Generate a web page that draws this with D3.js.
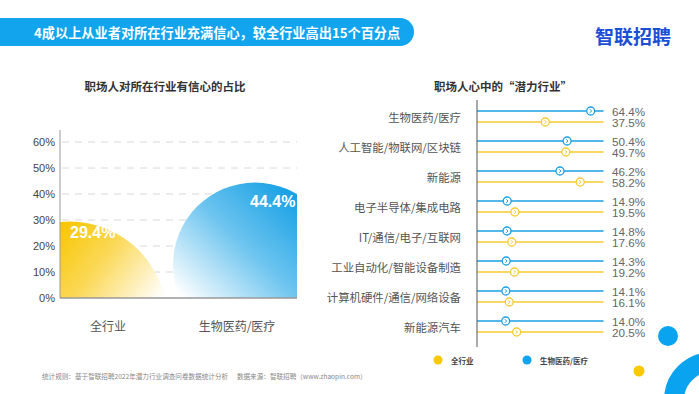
<!DOCTYPE html>
<html>
<head>
<meta charset="utf-8">
<script src="https://cdn.jsdelivr.net/npm/d3@7"></script>
<style>
  body { margin: 0; background: #fff; }
  svg { display: block; font-family: "Noto Sans CJK SC", "Noto Sans", sans-serif; }
</style>
</head>
<body>
<div id="chart"></div>
<script>
// left chart data
var confCats = ["全行业", "生物医药/医疗"];
var confVals = [29.4, 44.4];
var confTicks = [0, 10, 20, 30, 40, 50, 60];

// right chart data
var potCats = ["生物医药/医疗", "人工智能/物联网/区块链", "新能源", "电子半导体/集成电路",
  "IT/通信/电子/互联网", "工业自动化/智能设备制造", "计算机硬件/通信/网络设备", "新能源汽车"];
var bioVals = [64.4, 50.4, 46.2, 14.9, 14.8, 14.3, 14.1, 14.0];
var allVals = [37.5, 49.7, 58.2, 19.5, 17.6, 19.2, 16.1, 20.5];
var seriesNames = ["全行业", "生物医药/医疗"];

var width = 699, height = 394;
var blue = "#1a9fe3", yellow = "#f6cb2f";

var svg = d3.select("#chart").append("svg")
    .attr("width", width)
    .attr("height", height);
var defs = svg.append("defs");

// header bar
svg.append("path")
    .attr("d", "M0,18 H400 A14,14 0 0 1 400,46 H0 Z")
    .attr("fill", "#12a5ee");
svg.append("text")
    .attr("x", 34).attr("y", 32)
    .attr("dominant-baseline", "central")
    .attr("fill", "#fff")
    .attr("font-size", 13.2)
    .attr("font-weight", "bold")
    .text("4成以上从业者对所在行业充满信心，较全行业高出15个百分点");

// logo
svg.append("text")
    .attr("x", 595).attr("y", 35)
    .attr("dominant-baseline", "central")
    .attr("fill", "#1b4fd6")
    .attr("font-size", 19)
    .attr("font-weight", "bold")
    .text("智联招聘");

// ---------- left chart ----------
var plotL = 60, plotR = 297;
var y = d3.scaleLinear().domain([0, 60]).range([298, 142]);
var x = d3.scalePoint().domain(confCats).range([108, 237]);

svg.append("text")
    .attr("x", 165).attr("y", 86)
    .attr("text-anchor", "middle")
    .attr("dominant-baseline", "central")
    .attr("font-size", 11.5)
    .attr("font-weight", "bold")
    .attr("fill", "#333")
    .text("职场人对所在行业有信心的占比");

// dashed grid
svg.append("g").selectAll("line")
    .data(confTicks.filter(function(d) { return d > 0; }))
    .join("line")
    .attr("x1", plotL + 2).attr("x2", plotR)
    .attr("y1", function(d) { return y(d); })
    .attr("y2", function(d) { return y(d); })
    .attr("stroke", "#d8d8d8")
    .attr("stroke-width", 1)
    .attr("stroke-dasharray", "7,6");

// tick labels
svg.append("g").selectAll("text")
    .data(confTicks)
    .join("text")
    .attr("x", 55)
    .attr("y", function(d) { return y(d); })
    .attr("text-anchor", "end")
    .attr("dominant-baseline", "central")
    .attr("font-family", "Liberation Sans, Arial, sans-serif")
    .attr("font-size", 11)
    .attr("fill", "#444")
    .text(function(d) { return d + "%"; });

// gradients
var gY = defs.append("linearGradient").attr("id", "gYellow")
    .attr("gradientUnits", "userSpaceOnUse")
    .attr("x1", 60).attr("y1", 225).attr("x2", 160).attr("y2", 300);
gY.append("stop").attr("offset", 0).attr("stop-color", "#f8c600");
gY.append("stop").attr("offset", 0.45).attr("stop-color", "#fbd95a");
gY.append("stop").attr("offset", 1).attr("stop-color", "#ffffff");
var gB = defs.append("linearGradient").attr("id", "gBlue")
    .attr("gradientUnits", "userSpaceOnUse")
    .attr("x1", 297).attr("y1", 182).attr("x2", 185).attr("y2", 300);
gB.append("stop").attr("offset", 0).attr("stop-color", "#0a9be4");
gB.append("stop").attr("offset", 0.5).attr("stop-color", "#6cc4ef");
gB.append("stop").attr("offset", 1).attr("stop-color", "#ffffff");

defs.append("clipPath").attr("id", "plotClip")
    .append("rect")
    .attr("x", plotL).attr("y", 100)
    .attr("width", plotR - plotL).attr("height", 298 - 100);

// circle blobs: top of each circle sits at the value
var blobs = [
  { dx: -38, r: 97, fill: "url(#gYellow)", lx: -38, ly: 11 },
  { dx: 18, r: 82, fill: "url(#gBlue)", lx: 13, ly: 19 }
];
var gBlobs = svg.append("g").attr("clip-path", "url(#plotClip)");
gBlobs.selectAll("circle")
    .data(confCats)
    .join("circle")
    .attr("cx", function(d, i) { return x(d) + blobs[i].dx; })
    .attr("cy", function(d, i) { return y(confVals[i]) + blobs[i].r; })
    .attr("r", function(d, i) { return blobs[i].r; })
    .attr("fill", function(d, i) { return blobs[i].fill; });

svg.append("g").selectAll("text")
    .data(confCats)
    .join("text")
    .attr("x", function(d, i) { return x(d) + blobs[i].lx; })
    .attr("y", function(d, i) { return y(confVals[i]) + blobs[i].ly; })
    .attr("dominant-baseline", "central")
    .attr("font-family", "Liberation Sans, Arial, sans-serif")
    .attr("font-size", 16)
    .attr("font-weight", "bold")
    .attr("fill", "#fff")
    .text(function(d, i) { return confVals[i] + "%"; });

// axes lines
svg.append("line")
    .attr("x1", plotL).attr("x2", plotL).attr("y1", 130).attr("y2", 298)
    .attr("stroke", "#999").attr("stroke-width", 1);
svg.append("line")
    .attr("x1", plotL).attr("x2", plotR).attr("y1", 298).attr("y2", 298)
    .attr("stroke", "#999").attr("stroke-width", 1.5);

svg.append("g").selectAll("text")
    .data(confCats)
    .join("text")
    .attr("x", function(d) { return x(d); })
    .attr("y", 325)
    .attr("text-anchor", "middle")
    .attr("dominant-baseline", "central")
    .attr("font-size", 12)
    .attr("fill", "#555")
    .text(function(d) { return d; });

// ---------- right chart ----------
svg.append("text")
    .attr("x", 503).attr("y", 86)
    .attr("text-anchor", "middle")
    .attr("dominant-baseline", "central")
    .attr("font-size", 11.5)
    .attr("font-weight", "bold")
    .attr("fill", "#333")
    .text("职场人心中的“潜力行业”");

var axisX = 477, lineEnd = 603.5;
var xs = d3.scaleLinear().domain([-3, 72]).range([axisX, lineEnd]);
var ys = d3.scaleBand().domain(potCats).range([101.5, 341.5]);
var off = 5.5;

var series = [
  { vals: bioVals, color: blue, dy: -off },
  { vals: allVals, color: yellow, dy: off }
];

series.forEach(function(s) {
  var g = svg.append("g");
  g.selectAll("line")
      .data(potCats)
      .join("line")
      .attr("x1", axisX).attr("x2", lineEnd)
      .attr("y1", function(d) { return ys(d) + ys.bandwidth() / 2 + s.dy; })
      .attr("y2", function(d) { return ys(d) + ys.bandwidth() / 2 + s.dy; })
      .attr("stroke", s.color)
      .attr("stroke-width", 1.5);
  var m = g.selectAll("g.mk")
      .data(potCats)
      .join("g")
      .attr("class", "mk")
      .attr("transform", function(d, i) {
        return "translate(" + xs(s.vals[i]) + "," + (ys(d) + ys.bandwidth() / 2 + s.dy) + ")";
      });
  m.append("circle")
      .attr("r", 4)
      .attr("fill", "#fff")
      .attr("stroke", s.color)
      .attr("stroke-width", 1.3);
  m.append("path")
      .attr("d", "M-0.9,-1.8 L0.9,0 L-0.9,1.8")
      .attr("fill", "none")
      .attr("stroke", s.color)
      .attr("stroke-width", 1);
  g.selectAll("text")
      .data(potCats)
      .join("text")
      .attr("x", 612)
      .attr("y", function(d) { return ys(d) + ys.bandwidth() / 2 + s.dy; })
      .attr("dominant-baseline", "central")
      .attr("font-family", "Liberation Sans, Arial, sans-serif")
      .attr("font-size", 11.7)
      .attr("fill", "#666")
      .text(function(d, i) { return s.vals[i].toFixed(1) + "%"; });
});

svg.append("line")
    .attr("x1", axisX).attr("x2", axisX).attr("y1", 100).attr("y2", 347)
    .attr("stroke", "#555").attr("stroke-width", 1);

svg.append("g").selectAll("text")
    .data(potCats)
    .join("text")
    .attr("x", 461)
    .attr("y", function(d) { return ys(d) + ys.bandwidth() / 2; })
    .attr("text-anchor", "end")
    .attr("dominant-baseline", "central")
    .attr("font-size", 11.4)
    .attr("fill", "#555")
    .text(function(d) { return d; });

// legend
var legend = svg.append("g").selectAll("g")
    .data(seriesNames)
    .join("g")
    .attr("transform", function(d, i) { return "translate(" + (438 + i * 89) + ",360)"; });
legend.append("circle")
    .attr("r", 4.5)
    .attr("fill", function(d, i) { return i === 0 ? "#f8c800" : "#10a4f0"; });
legend.append("text")
    .attr("x", 13)
    .attr("dominant-baseline", "central")
    .attr("font-size", 7.5)
    .attr("font-weight", "bold")
    .attr("fill", "#444")
    .text(function(d) { return d; });

// footer
svg.append("text")
    .attr("x", 42).attr("y", 376)
    .attr("dominant-baseline", "central")
    .attr("font-size", 6.6)
    .attr("fill", "#888")
    .attr("xml:space", "preserve")
    .text("统计规则：基于智联招聘2022年潜力行业调查问卷数据统计分析      数据来源：智联招聘（www.zhaopin.com）");

// decorations
svg.append("circle").attr("cx", 668).attr("cy", 336).attr("r", 10).attr("fill", "#0aa3f0");
svg.append("circle").attr("cx", 639).attr("cy", 371).attr("r", 5.5).attr("fill", "#f8c800");
svg.append("circle").attr("cx", 712).attr("cy", 400).attr("r", 38)
    .attr("fill", "none").attr("stroke", "#0aa3f0").attr("stroke-width", 20);
</script>
</body>
</html>
